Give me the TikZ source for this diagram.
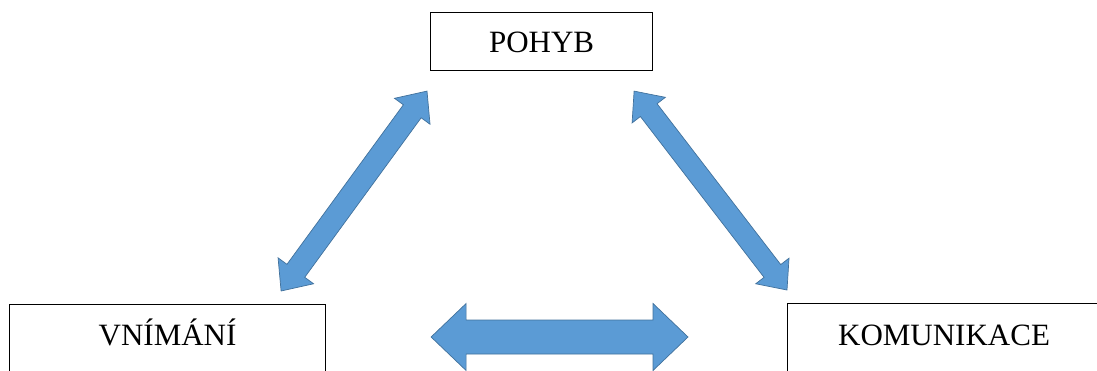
\documentclass[tikz,border=0pt]{standalone}
\usepackage{fontspec}
\setmainfont{Liberation Serif}
\usetikzlibrary{calc}
\definecolor{arrowblue}{RGB}{91,155,213}
\definecolor{arrowedge}{RGB}{65,113,156}

\begin{document}
\begin{tikzpicture}[x=1pt, y=-1pt, font=\fontsize{31}{36}\selectfont,
    box/.style={draw, line width=1.1pt, inner xsep=0pt, inner ysep=0pt,
      text height=40pt, text depth=18pt, anchor=north west},
    blockarrow/.style={fill=arrowblue, draw=arrowedge, line width=0.7pt, line join=miter}]
  \useasboundingbox (0,0) rectangle (1097,371);
  % ------------------------------------------------------------------ boxes
  \node[box, minimum width=222pt] (pohyb) at (430,12) {POHYB};
  \node[box, minimum width=316pt, text height=41pt, text depth=30pt] (vnimani) at (9,304) {VNÍMÁNÍ};
  \node[box, minimum width=313pt, text height=42pt, text depth=30pt] (komunikace) at (787,303) {KOMUNIKACE};
  % ------------------------------------------------------------------ arrow ends
  \coordinate (pl) at ($(pohyb.south west)+(-3,20)$);
  \coordinate (vr) at ($(vnimani.north east)+(-45,-13)$);
  \coordinate (pr) at ($(pohyb.south east)+(-19,20)$);
  \coordinate (kl) at ($(komunikace.north west)+(0,-13)$);
  \coordinate (vh) at ($(vnimani.north east)+(105,33)$);
  \coordinate (kh) at ($(komunikace.north west)+(-99,34)$);
  % ------------------------------------------------------------------ block arrows
  % from / to / half shaft / half head / head length
  \foreach \p/\q/\s/\h/\l in {vr/pl/11/22/25, pr/kl/10.5/21/24, vh/kh/17/33.5/35} {
    \path ($(\p)!\l pt!(\q)$) coordinate (pa) ($(\q)!\l pt!(\p)$) coordinate (qa);
    \filldraw[blockarrow] (\p) -- ($(pa)!\h pt!90:(\q)$) -- ($(pa)!\s pt!90:(\q)$)
      -- ($(qa)!\s pt!-90:(\p)$) -- ($(qa)!\h pt!-90:(\p)$) -- (\q)
      -- ($(qa)!\h pt!90:(\p)$) -- ($(qa)!\s pt!90:(\p)$)
      -- ($(pa)!\s pt!-90:(\q)$) -- ($(pa)!\h pt!-90:(\q)$) -- cycle;
  }
\end{tikzpicture}
\end{document}
